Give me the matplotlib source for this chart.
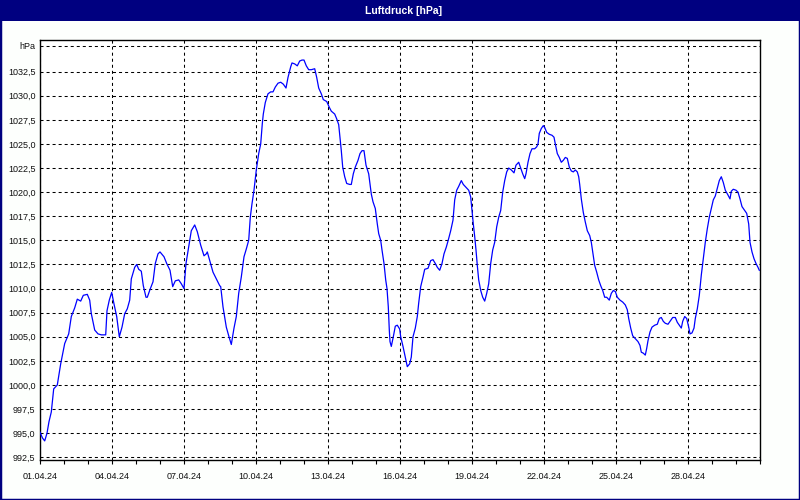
import matplotlib
matplotlib.use("Agg")
import matplotlib.pyplot as plt
import matplotlib.dates as mdates
from matplotlib.patches import Rectangle
import pandas as pd

title = "Luftdruck [hPa]"
start_date = "2024-04-01"
end_date = "2024-05-01"

# hours since start (01.04.24 00:00) and pressure in hPa
hours = [
    0, 2.5, 4.7, 7, 9, 11.3, 13.7, 17.3, 20.7, 24.7, 28.7, 31.3, 34.7, 37.3, 40.7, 43.3, 47.3, 49.7,
    51.3, 54.7, 58, 61.3, 65.7, 67, 69.3, 71.7, 74, 76.7, 79.3, 82, 84.7, 87.3, 89.7, 91.3, 94.7,
    96.7, 98.7, 101.3, 103.3, 106, 107.3, 110, 113, 115.3, 118, 120, 124, 126.7, 130, 132.7, 135.3,
    138.7, 141.3, 144, 146, 148.7, 151.3, 154.7, 157.3, 160.7, 164, 166.3, 167.3, 169.7, 173, 179.7,
    180.7, 183, 186.3, 189, 191.3, 194, 196.3, 198.7, 201.3, 204, 206.3, 208.7, 210.3, 212, 214,
    216.3, 218.7, 220.7, 222.3, 223.3, 225.3, 228, 230.7, 233, 235.3, 238, 240.7, 243.3, 246, 248,
    250.7, 252, 254.7, 257.3, 259.7, 262, 264, 266.3, 268.7, 271.3, 274.7, 276.7, 278.7, 281.3,
    283.3, 286.7, 289.3, 291.3, 294.7, 296.7, 298.7, 300, 301.3, 302.7, 304.7, 306.7, 309.7, 311.3,
    313.3, 315.3, 318, 320, 322, 324, 326, 328.7, 331.3, 333, 335.3, 337.3, 338.7, 340.7, 342, 344,
    345.7, 347, 348.3, 349.3, 350, 351.3, 353.3, 355.3, 357.3, 359.7,
    360.7, 363, 365.3, 367.3, 369.7, 371.3, 373, 375.3, 377.3, 378.7, 380.7, 383, 384.7, 388, 390.7,
    393, 395.3, 397.3, 399.7, 402, 404, 406.3, 408.7, 410.7, 413, 414.7, 416.7, 418.7, 421.3, 423.3,
    426, 428.7, 430.7, 432, 433.3, 434.7, 436, 437.3, 438.7, 440.7, 442.7, 444.7, 446.7, 448.7,
    450.7, 452.7, 454.7, 456.7, 458.7, 460.7, 462.7, 464.7, 466.7, 468.7, 471.3, 474, 476, 478.7,
    480.7, 482.7, 484.7, 486, 488, 490, 492, 494.7, 496.7, 498, 499.3, 501.3, 503.3, 504.7, 506.7,
    509.3, 512, 514, 515.3, 517.3, 519.3, 521.3, 523.3, 525.3, 527.3, 529.3, 531.3, 533.3, 535.3,
    537.3, 538.7, 539.7,
    541.3, 543.3, 545.3, 547.3, 549.7, 551.3, 552.7, 554.7, 556.7, 558.7, 560.7, 562.7, 564.7,
    566.7, 569.3, 571.3, 573.3, 575.3, 577.3, 580, 582.7, 585.3, 587.3, 588.7, 590.7, 592.7, 595.3,
    598, 600, 601.3, 603.3, 605.3, 606.7, 608, 610, 612, 614.7, 617.3, 619.3, 621.3, 623.3, 625.3,
    628, 630.7, 632.7, 635.3, 637.3, 639.3, 641.3, 642.7, 644.7, 646.7, 648.7, 650, 652, 654, 655.3,
    657.3, 659.3, 661.3, 663.3, 665.3, 667.3, 669.3, 671.3, 673.3, 675.3, 677.3, 679.3, 681.3,
    683.3, 685.3, 688, 690, 691.3, 693.3, 696, 698, 700, 702, 704.7, 706.7, 708.7, 710, 712, 714,
    716, 718, 719.3,
]

pressure = [
    995.1, 994.5, 994.2, 995.0, 996.2, 997.2, 999.6, 1000.0, 1002.2, 1004.3, 1005.3, 1007.1, 1008.0,
    1008.9, 1008.7, 1009.3, 1009.4, 1008.8, 1007.4, 1005.7, 1005.3, 1005.2, 1005.2, 1007.7, 1008.8,
    1009.6, 1008.4, 1007.1, 1005.0, 1006.0, 1007.4, 1007.9, 1008.8, 1011.0, 1012.2, 1012.5, 1012.0,
    1011.8, 1010.3, 1009.1, 1009.1, 1009.9, 1010.7, 1012.6, 1013.6, 1013.8, 1013.3, 1012.6, 1011.9,
    1010.2, 1010.8, 1010.9, 1010.5, 1010.0, 1012.6, 1014.3, 1016.0, 1016.6, 1015.9, 1014.5, 1013.4,
    1013.6, 1013.8, 1012.9, 1011.7, 1010.3,
    1010.2, 1008.1, 1006.0, 1005.0, 1004.2, 1005.9, 1007.1, 1009.5, 1011.2, 1013.3, 1014.1, 1015.0,
    1017.4, 1018.8, 1020.2, 1022.3, 1024.0, 1025.0, 1027.1, 1028.1, 1029.3, 1030.2, 1030.4, 1030.4,
    1030.9, 1031.3, 1031.4, 1031.2, 1030.8, 1031.9, 1033.0, 1033.4, 1033.3, 1033.1, 1033.6, 1033.7,
    1033.7, 1033.1, 1032.7, 1032.7, 1032.8, 1031.9, 1030.8, 1030.2, 1029.6, 1029.4, 1028.8, 1028.4,
    1028.1, 1027.6, 1027.0, 1025.7, 1024.3, 1022.6, 1021.6, 1020.9, 1020.8, 1020.8, 1021.9, 1022.6,
    1023.3, 1024.0, 1024.3, 1024.3, 1022.8, 1021.9, 1019.8, 1019.0, 1018.3, 1016.7, 1015.7, 1015.0,
    1014.0, 1012.6, 1010.9, 1010.0, 1008.1, 1005.7, 1004.5, 1004.0, 1005.0, 1006.1, 1006.2, 1005.8,
    1005.0, 1004.0, 1002.9, 1001.9, 1002.2, 1002.9, 1005.0, 1005.9, 1007.1, 1008.5, 1010.2, 1011.2,
    1012.0, 1012.1, 1012.9, 1013.0, 1012.6, 1012.2, 1011.9, 1012.6, 1013.6, 1014.3, 1015.2, 1016.0,
    1017.1, 1019.2, 1020.2, 1020.6, 1021.2, 1020.8, 1020.5, 1020.2, 1019.5, 1018.1, 1016.7, 1015.4,
    1014.0, 1012.4, 1010.9, 1009.8, 1009.1, 1008.7, 1009.5, 1010.5, 1012.6, 1014.0, 1014.8, 1016.4,
    1017.4, 1018.1, 1020.0, 1021.2, 1022.1, 1022.5, 1022.3, 1022.0, 1022.8, 1023.1, 1022.5, 1021.9,
    1021.4, 1021.9, 1023.1, 1024.0, 1024.5, 1024.5, 1024.7, 1025.0, 1026.1, 1026.6, 1026.9, 1026.7,
    1026.2, 1026.0, 1025.9, 1025.7, 1025.0, 1024.0, 1023.6, 1023.1, 1023.3, 1023.6, 1023.5, 1022.6,
    1022.2, 1022.1, 1022.3, 1022.1, 1021.6, 1020.8,
    1019.3, 1017.9, 1016.9, 1016.0, 1015.5, 1014.8, 1013.8, 1012.4, 1011.7, 1010.9, 1010.3, 1009.8,
    1009.1, 1009.1, 1008.8, 1009.5, 1009.8, 1009.7, 1009.1, 1008.8, 1008.6, 1008.3, 1007.8, 1006.9,
    1005.9, 1005.1, 1004.8, 1004.5, 1004.1, 1003.4, 1003.3, 1003.1, 1003.8, 1004.6, 1005.5, 1006.0,
    1006.2, 1006.3, 1006.9, 1007.0, 1006.6, 1006.4, 1006.3, 1006.7, 1007.0, 1007.0, 1006.5, 1006.2,
    1005.9, 1006.6, 1007.1, 1006.9, 1006.0, 1005.3, 1005.4, 1005.9, 1006.9, 1007.9, 1009.3, 1011.4,
    1013.1, 1014.8, 1016.2, 1017.4, 1018.3, 1019.2, 1019.6, 1020.4, 1021.2, 1021.6, 1021.0, 1020.2,
    1019.7, 1019.3, 1020.1, 1020.3, 1020.2, 1020.0, 1019.3, 1018.5, 1018.1, 1017.8, 1016.7, 1014.8,
    1013.8, 1013.1, 1012.6, 1012.2, 1011.9,
]

ytick_values = [992.5, 995.0, 997.5, 1000.0, 1002.5, 1005.0, 1007.5, 1010.0, 1012.5, 1015.0,
                1017.5, 1020.0, 1022.5, 1025.0, 1027.5, 1030.0, 1032.5]
unit_label = "hPa"
unit_level = 1035.2
ylim = (992.22, 1035.78)

navy = "#000080"
font = "Liberation Sans"

times = pd.Timestamp(start_date) + pd.to_timedelta(hours, unit="h")

W, H = 800, 500
fig = plt.figure(figsize=(8, 5), dpi=100, facecolor="#fdfffd")
ax = fig.add_axes([40 / W, 40 / H, 720 / W, 420 / H])
ax.set_facecolor("white")

ax.plot(times, pressure, color="#0000ff", lw=0.9, zorder=3)

ax.set_xlim(pd.Timestamp(start_date), pd.Timestamp(end_date))
ax.set_ylim(*ylim)

major = pd.date_range(start_date, periods=10, freq="3D")
minor = pd.date_range(start_date, end_date, freq="1D")
ax.set_xticks(major)
ax.set_xticks(minor, minor=True)
ax.xaxis.set_major_formatter(mdates.DateFormatter("%d.%m.%y"))

yt = ytick_values + [unit_level]
ylabels = [f"{v:.1f}".replace(".", ",") for v in ytick_values] + [unit_label]
ax.set_yticks(yt)
ax.set_yticklabels(ylabels)

ax.tick_params(axis="y", length=0, pad=3.2, labelsize=6.5, labelcolor="#101010")
ax.tick_params(axis="x", which="both", direction="out", length=3, width=0.8, color="black")
ax.tick_params(axis="x", which="major", pad=5.5, labelsize=6.5, labelcolor="#101010")
for lab in ax.get_xticklabels() + ax.get_yticklabels():
    lab.set_fontfamily(font)

ax.grid(True, which="major", color="black", lw=0.75, linestyle=(0, (2.9, 2.9)), zorder=1)
for s in ax.spines.values():
    s.set_color("black")
    s.set_linewidth(1.0)

# title bar
bar_h = 21 / H
fig.patches.append(Rectangle((0, 1 - bar_h), 1, bar_h, transform=fig.transFigure,
                             facecolor=navy, edgecolor="none", zorder=0))
fig.text(0.504, 1 - bar_h / 2, title, color="white", fontsize=7.5, fontweight="bold",
         family=font, ha="center", va="center")
# window border
fig.patches.append(Rectangle((0, 0), 1, 1, transform=fig.transFigure, fill=False,
                             edgecolor=navy, lw=2.5, zorder=5))

fig.savefig("out.png", dpi=100, facecolor=fig.get_facecolor())
